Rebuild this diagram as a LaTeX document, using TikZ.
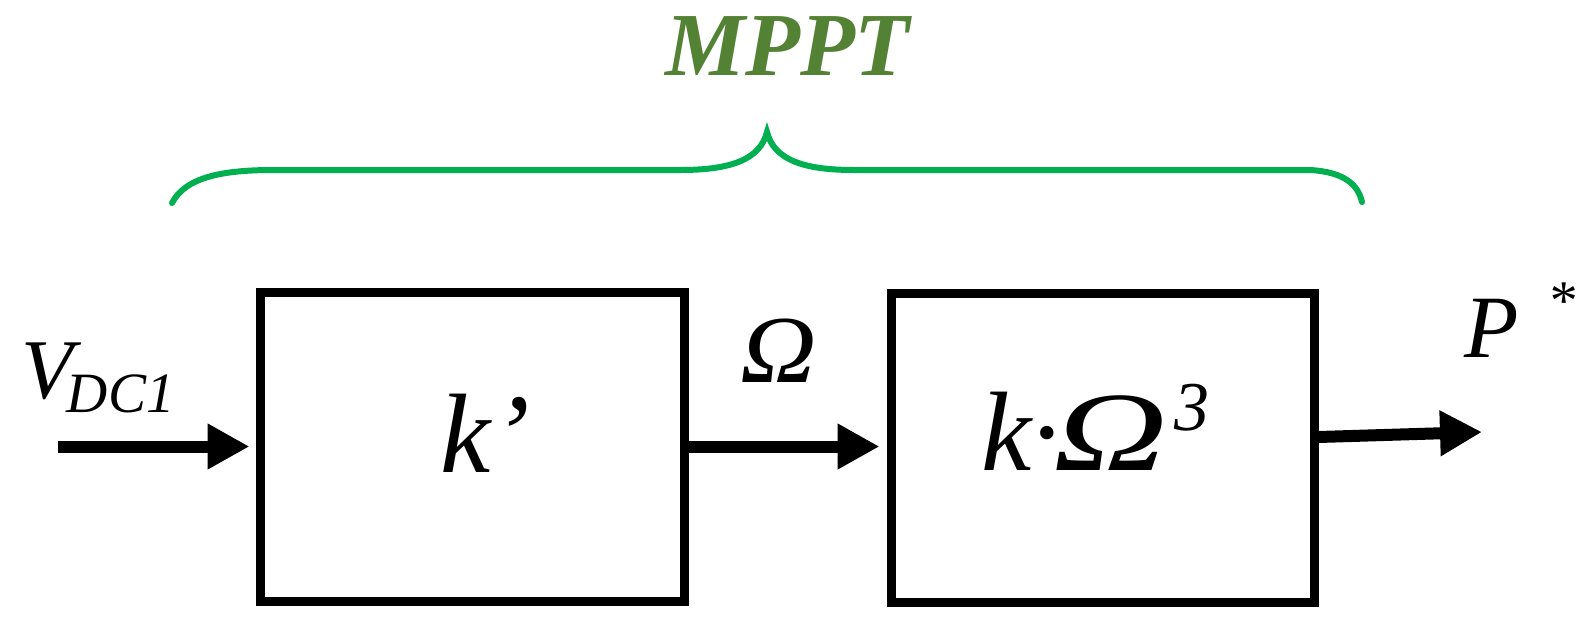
\documentclass[tikz,border=0pt]{standalone}
\usepackage{graphicx}
\usepackage{fontspec}
\setmainfont{Liberation Serif}
\usetikzlibrary{arrows.meta,calc}
\definecolor{mpptgreen}{RGB}{84,130,53}
\definecolor{bracegreen}{RGB}{0,176,80}
\tikzset{
  blk/.style={draw=black, line width=9pt, inner sep=0pt, rectangle},
  arr/.style={draw=black, line width=12pt, -{Triangle[length=42pt,width=43pt]}},
  lbl/.style={inner sep=0pt, outer sep=0pt, anchor=base west, font=\itshape},
  bracestyle/.style={draw=bracegreen, line width=6pt, line cap=round}
}
\begin{document}
\begin{tikzpicture}[x=1pt,y=-1pt]
\useasboundingbox (0,0) rectangle (1582,638);
% title
\node[lbl, text=mpptgreen, font=\bfseries\itshape\fontsize{90}{90}\selectfont] (title) at (665,75) {MPPT};
% brace
\draw[bracestyle] (172,203) .. controls (185,178) and (220,170) .. (273,170)
  -- (680,170) .. controls (730,170) and (760,160) .. (767,132)
  .. controls (774,160) and (804,170) .. (854,170)
  -- (1310,170) .. controls (1345,172) and (1358,185) .. (1362,202);
% blocks
\node[blk, minimum width=424pt, minimum height=309pt] (b1) at (472,446.5) {};
\node[blk, minimum width=423pt, minimum height=309pt] (b2) at (1102.5,448) {};
% labels inside blocks
\node[lbl] (k1) at (440,472) {\fontsize{113}{113}\selectfont k\kern2pt’};
\node[lbl] (k2) at (981,470) {\fontsize{113}{113}\selectfont k·\kern-6pt\scalebox{1.4}[1]{Ω}\hspace{7pt}\raisebox{40pt}{\fontsize{70}{70}\selectfont 3}};
% input label
\node[lbl] (vdc) at (21,398) {\fontsize{85}{85}\selectfont V\kern-6pt\raisebox{-14pt}{\fontsize{57}{57}\selectfont DC1}};
% omega label
\node[lbl] (om) at (740,382) {\fontsize{96}{96}\selectfont\scalebox{1.1}[1]{Ω}};
% output label
\node[lbl] (pst) at (1464,357) {\fontsize{89}{89}\selectfont P\hspace{29pt}\raisebox{38pt}{\fontsize{56}{56}\selectfont *}};
% connectors
\coordinate (vin) at (58,446.5);
\coordinate (pout) at (1482,432);
\draw[arr, shorten >=6pt] (vin) -- (b1.west);
\draw[arr, shorten >=7pt] (b1.east) -- (b1.east -| b2.west);
\draw[arr] ($(b2.east)+(0,-11)$) -- (pout);
\end{tikzpicture}
\end{document}
